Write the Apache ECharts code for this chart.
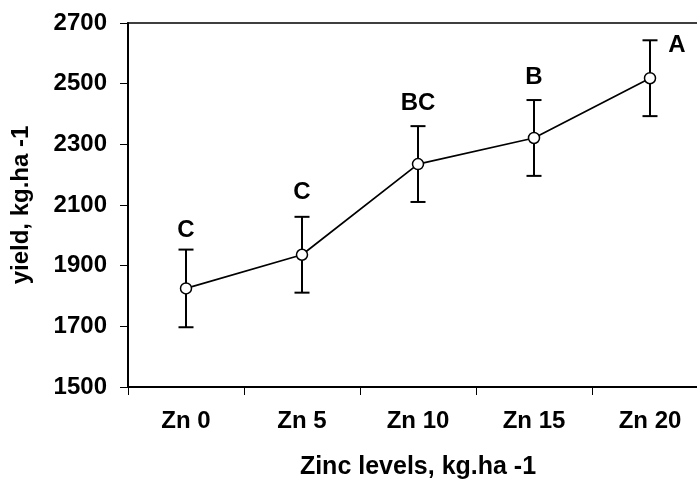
<!DOCTYPE html>
<html>
<head>
<meta charset="utf-8">
<script src="https://cdn.jsdelivr.net/npm/echarts@6/dist/echarts.min.js"></script>
<style>
    html, body { margin: 0; padding: 0; background: #fff; }
    #yieldChart { width: 697px; height: 483px; }
</style>
</head>
<body>
<div id="yieldChart"></div>
<script>
var zincLevels = ['Zn 0', 'Zn 5', 'Zn 10', 'Zn 15', 'Zn 20'];
var yieldMean = [1825, 1936, 2235, 2321, 2518];
var yieldErr = [128, 125, 125, 125, 125];
var letters = ['C', 'C', 'BC', 'B', 'A'];
var letterAt = [2017, 2140, 2435, 2522, 2626];
var yTicks = { min: 1500, max: 2700, step: 200 };

var fontFamily = '"Liberation Sans", Arial, sans-serif';

var errData = [];
for (var i = 0; i < yieldMean.length; i++) {
    errData.push([i, yieldMean[i] - yieldErr[i], yieldMean[i] + yieldErr[i]]);
}

var letterData = [];
for (var i = 0; i < letters.length; i++) {
    var item = { value: [i, letterAt[i]], name: letters[i] };
    // the last letter sits beside the cap, not above it
    if (i === letters.length - 1) {
        item.label = { offset: [27, 0] };
    }
    letterData.push(item);
}

var chart = echarts.init(document.getElementById('yieldChart'));

var option = {
    animation: false,
    textStyle: { fontFamily: fontFamily },
    grid: {
        left: 128,
        width: 580,
        top: 23,
        bottom: 96,
        outerBoundsMode: 'none',
        show: true,
        borderColor: '#000',
        borderWidth: 1.5
    },
    xAxis: {
        type: 'category',
        data: zincLevels,
        boundaryGap: true,
        name: 'Zinc levels, kg.ha -1',
        nameLocation: 'middle',
        nameGap: 68,
        nameTextStyle: {
            color: '#000',
            fontWeight: 'bold',
            fontSize: 25,
            fontFamily: fontFamily
        },
        axisLine: { lineStyle: { color: '#000', width: 2 } },
        axisTick: {
            show: true,
            alignWithLabel: false,
            length: 8,
            lineStyle: { color: '#000', width: 1 }
        },
        axisLabel: {
            margin: 22,
            color: '#000',
            fontWeight: 'bold',
            fontSize: 24,
            fontFamily: fontFamily
        },
        splitLine: { show: false }
    },
    yAxis: {
        type: 'value',
        min: yTicks.min,
        max: yTicks.max,
        interval: yTicks.step,
        name: 'yield, kg.ha -1',
        nameLocation: 'middle',
        nameGap: 95,
        nameTextStyle: {
            color: '#000',
            fontWeight: 'bold',
            fontSize: 24,
            fontFamily: fontFamily
        },
        axisLine: { show: true, lineStyle: { color: '#000', width: 2 } },
        axisTick: {
            show: true,
            length: 8,
            lineStyle: { color: '#000', width: 1 }
        },
        axisLabel: {
            margin: 21,
            color: '#000',
            fontWeight: 'bold',
            fontSize: 24,
            fontFamily: fontFamily,
            formatter: function (v) { return String(v); }
        },
        splitLine: { show: false }
    },
    series: [{
        name: 'error',
        type: 'custom',
        data: errData,
        z: 2,
        renderItem: function (params, api) {
            var x = api.value(0);
            var lo = api.coord([x, api.value(1)]);
            var hi = api.coord([x, api.value(2)]);
            var hw = 7.5;
            var style = { stroke: '#000', lineWidth: 2 };
            return {
                type: 'group',
                children: [{
                    type: 'line',
                    shape: { x1: lo[0], y1: lo[1], x2: hi[0], y2: hi[1] },
                    style: style
                }, {
                    type: 'line',
                    shape: { x1: hi[0] - hw, y1: hi[1], x2: hi[0] + hw, y2: hi[1] },
                    style: style
                }, {
                    type: 'line',
                    shape: { x1: lo[0] - hw, y1: lo[1], x2: lo[0] + hw, y2: lo[1] },
                    style: style
                }]
            };
        }
    }, {
        name: 'yield',
        type: 'line',
        data: yieldMean,
        z: 3,
        symbol: 'circle',
        symbolSize: 11,
        showSymbol: true,
        itemStyle: { color: '#fff', borderColor: '#000', borderWidth: 1.5 },
        lineStyle: { color: '#000', width: 1.7 }
    }, {
        name: 'letters',
        type: 'scatter',
        data: letterData,
        symbol: 'circle',
        symbolSize: 1,
        itemStyle: { color: 'rgba(0,0,0,0)', opacity: 1 },
        z: 4,
        label: {
            show: true,
            position: 'inside',
            formatter: '{b}',
            color: '#000',
            opacity: 1,
            textBorderWidth: 0,
            textBorderColor: 'transparent',
            fontWeight: 'bold',
            fontSize: 24,
            fontFamily: fontFamily
        }
    }]
};

chart.setOption(option);
</script>
</body>
</html>
